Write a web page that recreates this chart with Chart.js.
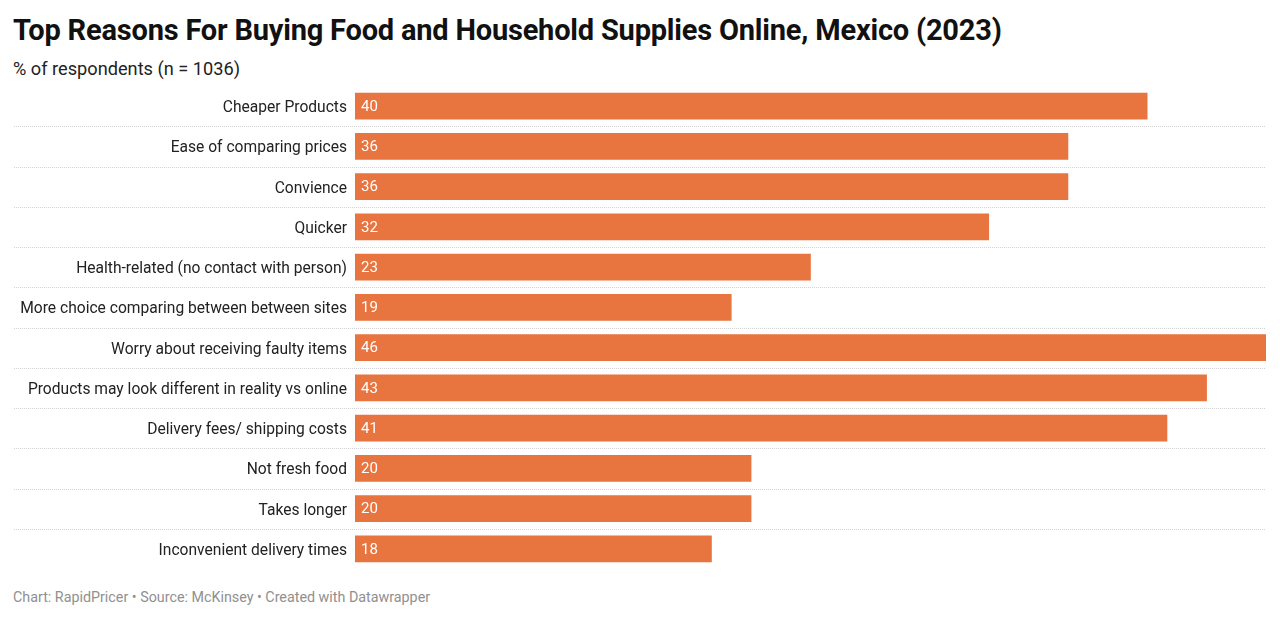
<!DOCTYPE html>
<html lang="en">
<head>
    <meta charset="UTF-8">
    <title>Top Reasons For Buying Food and Household Supplies Online, Mexico (2023)</title>
    <script src="https://cdn.jsdelivr.net/npm/chart.js"></script>
    <style>
        body {
            margin: 0;
            width: 1280px;
            height: 619px;
            background: #fff;
            font-family: Roboto, "Noto Sans", sans-serif;
            position: relative;
            overflow: hidden;
        }
        h1 {
            position: absolute;
            left: 13px;
            top: 12px;
            margin: 0;
            font-size: 29px;
            line-height: 36px;
            font-weight: 700;
            color: #111;
            letter-spacing: -0.2px;
        }
        .sub {
            position: absolute;
            left: 13px;
            top: 58px;
            font-size: 18.2px;
            line-height: 22px;
            color: #222;
        }
        .foot {
            position: absolute;
            left: 13px;
            top: 588px;
            font-size: 14.3px;
            line-height: 18px;
            color: #909090;
        }
        .wrap {
            position: absolute;
            left: 0;
            top: 86px;
            width: 1280px;
            height: 483px;
        }
    </style>
</head>
<body>
    <h1>Top Reasons For Buying Food and Household Supplies Online, Mexico (2023)</h1>
    <div class="sub">% of respondents (n = 1036)</div>
    <div class="wrap"><canvas id="chart"></canvas></div>
    <div class="foot">Chart: RapidPricer • Source: McKinsey • Created with Datawrapper</div>

    <script>
        const categories = [
            "Cheaper Products",
            "Ease of comparing prices",
            "Convience",
            "Quicker",
            "Health-related (no contact with person)",
            "More choice comparing between between sites",
            "Worry about receiving faulty items",
            "Products may look different in reality vs online",
            "Delivery fees/ shipping costs",
            "Not fresh food",
            "Takes longer",
            "Inconvenient delivery times"
        ];
        const values = [40, 36, 36, 32, 23, 19, 46, 43, 41, 20, 20, 18];

        // dotted separators between rows, running under the labels too
        const rowLines = {
            id: 'rowLines',
            beforeDatasetsDraw(chart) {
                const c = chart.ctx;
                const y = chart.scales.y;
                c.save();
                c.strokeStyle = '#d2d2d2';
                c.lineWidth = 1;
                c.setLineDash([1, 1]);
                for (let i = 0; i < categories.length - 1; i++) {
                    const py = Math.round((y.getPixelForValue(i) + y.getPixelForValue(i + 1)) / 2) + 0.5;
                    c.beginPath();
                    c.moveTo(14, py);
                    c.lineTo(chart.chartArea.right, py);
                    c.stroke();
                }
                c.restore();
            }
        };

        // value labels inside the start of each bar
        const valueLabels = {
            id: 'valueLabels',
            afterDatasetsDraw(chart) {
                const c = chart.ctx;
                const meta = chart.getDatasetMeta(0);
                c.save();
                c.fillStyle = '#fff';
                c.font = '15px Roboto';
                c.textBaseline = 'middle';
                meta.data.forEach((bar, i) => {
                    c.fillText(values[i], bar.base + 6, bar.y + 1);
                });
                c.restore();
            }
        };

        new Chart(document.getElementById('chart'), {
            type: 'bar',
            data: {
                labels: categories,
                datasets: [{
                    data: values,
                    backgroundColor: '#e8743f',
                    barThickness: 26,
                    borderWidth: 0
                }]
            },
            options: {
                indexAxis: 'y',
                responsive: true,
                maintainAspectRatio: false,
                animation: false,
                layout: { padding: { left: 0, right: 14, top: 0, bottom: 0 } },
                scales: {
                    x: { display: false, min: 0, max: 46 },
                    y: {
                        grid: { display: false, drawTicks: false },
                        border: { display: false },
                        ticks: {
                            color: '#222',
                            font: { family: 'Roboto', size: 15.6 },
                            padding: 8,
                            labelOffset: 2
                        },
                        afterFit(scale) {
                            scale.width = 355;
                            scale.paddingTop = 0;
                            scale.paddingBottom = 0;
                        }
                    }
                },
                plugins: {
                    legend: { display: false },
                    tooltip: { enabled: false }
                }
            },
            plugins: [rowLines, valueLabels]
        });
    </script>
</body>
</html>
